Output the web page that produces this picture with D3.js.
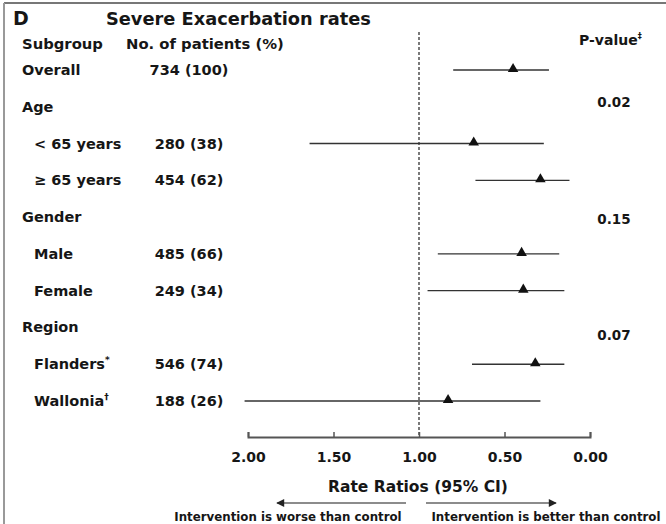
<!DOCTYPE html>
<html>
<head>
<meta charset="utf-8">
<script src="https://cdn.jsdelivr.net/npm/d3@7"></script>
<style>
  body { margin: 0; background: #fff; }
  svg text { font-family: "DejaVu Sans", sans-serif; font-weight: bold; fill: #161616; }
</style>
</head>
<body>
<svg id="drawing_region"></svg>
<script>
// rows, top to bottom
const rowLabels = ['Overall', 'Age', '< 65 years', '\u2265 65 years', 'Gender', 'Male', 'Female', 'Region', 'Flanders', 'Wallonia'];
const rowIsHeader = [true, true, false, false, true, false, false, true, false, false];
const patients = ['734 (100)', '', '280 (38)', '454 (62)', '', '485 (66)', '249 (34)', '', '546 (74)', '188 (26)'];
const labelMarks = ['', '', '', '', '', '', '', '', '*', '\u2020'];

// rate ratios with 95% CI (null where row is a group header)
const estimate = [0.45, null, 0.68, 0.29, null, 0.40, 0.39, null, 0.32, 0.83];
const ciLow    = [0.24, null, 0.27, 0.12, null, 0.18, 0.15, null, 0.15, 0.29];
const ciHigh   = [0.80, null, 1.64, 0.67, null, 0.89, 0.95, null, 0.69, 2.02];

// interaction p-values per subgroup factor
const pGroups = ['Age', 'Gender', 'Region'];
const pValues = ['0.02', '0.15', '0.07'];
const xTicks = [2.00, 1.50, 1.00, 0.50, 0.00];

const rows = rowLabels.map((label, i) => ({
    label: label,
    header: rowIsHeader[i],
    n: patients[i],
    mark: labelMarks[i],
    est: estimate[i],
    lo: ciLow[i],
    hi: ciHigh[i]
}));

const width = 666, height = 524;

const svg = d3.select('#drawing_region')
    .attr('width', width)
    .attr('height', height);

// frame lines
svg.append('line').attr('x1', 4).attr('x2', width).attr('y1', 3).attr('y2', 3)
    .attr('stroke', '#777').attr('stroke-width', 2);
svg.append('line').attr('x1', 4).attr('x2', 4).attr('y1', 3).attr('y2', height)
    .attr('stroke', '#999').attr('stroke-width', 2);

const xscale = d3.scaleLinear().domain([2, 0]).range([248, 590]);
const yscale = d3.scalePoint().domain(rowLabels).range([70, 401]);
const pscale = d3.scalePoint().domain(pGroups).range([102, 335]);
const axisY = 437;

// titles
svg.append('text').attr('x', 13).attr('y', 25).attr('font-size', 19).text('D');
svg.append('text').attr('x', 106).attr('y', 25).attr('font-size', 17.8).text('Severe Exacerbation rates');
svg.append('text').attr('x', 22).attr('y', 49).attr('font-size', 14.8).text('Subgroup');
svg.append('text').attr('x', 126).attr('y', 49).attr('font-size', 14.8).text('No. of patients (%)');
const pHead = svg.append('text').attr('x', 579).attr('y', 45).attr('font-size', 14).text('P-value');
pHead.append('tspan').attr('dy', -6).attr('font-size', 8).text('\u2021');

// reference line at 1
svg.append('line')
    .attr('x1', xscale(1)).attr('x2', xscale(1))
    .attr('y1', 32).attr('y2', axisY)
    .attr('stroke', '#222').attr('stroke-width', 1.2)
    .attr('stroke-dasharray', '3,2');

// row labels
const rowG = svg.append('g');
const lbl = rowG.selectAll('text.lbl').data(rows).join('text')
    .attr('class', 'lbl')
    .attr('x', d => d.header ? 22 : 34)
    .attr('y', d => yscale(d.label) + 5)
    .attr('font-size', 14.5)
    .text(d => d.label);
lbl.filter(d => d.mark).append('tspan')
    .attr('dy', -6).attr('font-size', 9)
    .text(d => d.mark);

rowG.selectAll('text.n').data(rows.filter(d => d.n)).join('text')
    .attr('class', 'n')
    .attr('x', 189)
    .attr('y', d => yscale(d.label) + 5)
    .attr('text-anchor', 'middle')
    .attr('font-size', 14.5)
    .text(d => d.n);

rowG.selectAll('text.p').data(pGroups).join('text')
    .attr('class', 'p')
    .attr('x', 614)
    .attr('y', d => pscale(d) + 5)
    .attr('text-anchor', 'middle')
    .attr('font-size', 13.5)
    .text((d, i) => pValues[i]);

// confidence intervals
const est = rows.filter(d => d.est !== null);
svg.append('g').selectAll('line').data(est).join('line')
    .attr('x1', d => xscale(d.hi))
    .attr('x2', d => xscale(d.lo))
    .attr('y1', d => yscale(d.label))
    .attr('y2', d => yscale(d.label))
    .attr('stroke', '#333')
    .attr('stroke-width', 1.4);

svg.append('g').selectAll('path').data(est).join('path')
    .attr('transform', d => `translate(${xscale(d.est)}, ${yscale(d.label) - 1})`)
    .attr('d', d3.symbol(d3.symbolTriangle, 48))
    .attr('fill', '#111');

// x axis, ticks pointing up
const xaxis = d3.axisBottom(xscale)
    .tickValues(xTicks)
    .tickFormat(d3.format('.2f'))
    .tickSize(-5)
    .tickPadding(15);

const axisG = svg.append('g')
    .attr('transform', `translate(0, ${axisY})`)
    .call(xaxis);
axisG.select('.domain').attr('stroke', '#555').attr('stroke-width', 2);
axisG.selectAll('.tick line').attr('stroke', '#555').attr('stroke-width', 1.5);
axisG.selectAll('.tick text')
    .attr('font-size', 14)
    .attr('font-family', '"DejaVu Sans", sans-serif')
    .attr('font-weight', 'bold')
    .attr('fill', '#161616');

svg.append('text')
    .attr('x', 418).attr('y', 492)
    .attr('text-anchor', 'middle')
    .attr('font-size', 15.5)
    .text('Rate Ratios (95% CI)');

// direction arrows
const defs = svg.append('defs');
defs.append('marker')
    .attr('id', 'head')
    .attr('viewBox', '0 0 10 10')
    .attr('refX', 9).attr('refY', 5)
    .attr('markerWidth', 10).attr('markerHeight', 8)
    .attr('markerUnits', 'userSpaceOnUse')
    .attr('orient', 'auto')
    .append('path')
    .attr('d', 'M0,0 L10,5 L0,10 Z')
    .attr('fill', '#222');

svg.append('line')
    .attr('x1', 406).attr('x2', 277).attr('y1', 503).attr('y2', 503)
    .attr('stroke', '#666').attr('stroke-width', 1.5)
    .attr('marker-end', 'url(#head)');
svg.append('line')
    .attr('x1', 426).attr('x2', 556).attr('y1', 503).attr('y2', 503)
    .attr('stroke', '#666').attr('stroke-width', 1.5)
    .attr('marker-end', 'url(#head)');

svg.append('text').attr('x', 288).attr('y', 521).attr('text-anchor', 'middle')
    .attr('font-size', 11.8).text('Intervention is worse than control');
svg.append('text').attr('x', 546).attr('y', 521).attr('text-anchor', 'middle')
    .attr('font-size', 11.8).text('Intervention is better than control');
</script>
</body>
</html>
